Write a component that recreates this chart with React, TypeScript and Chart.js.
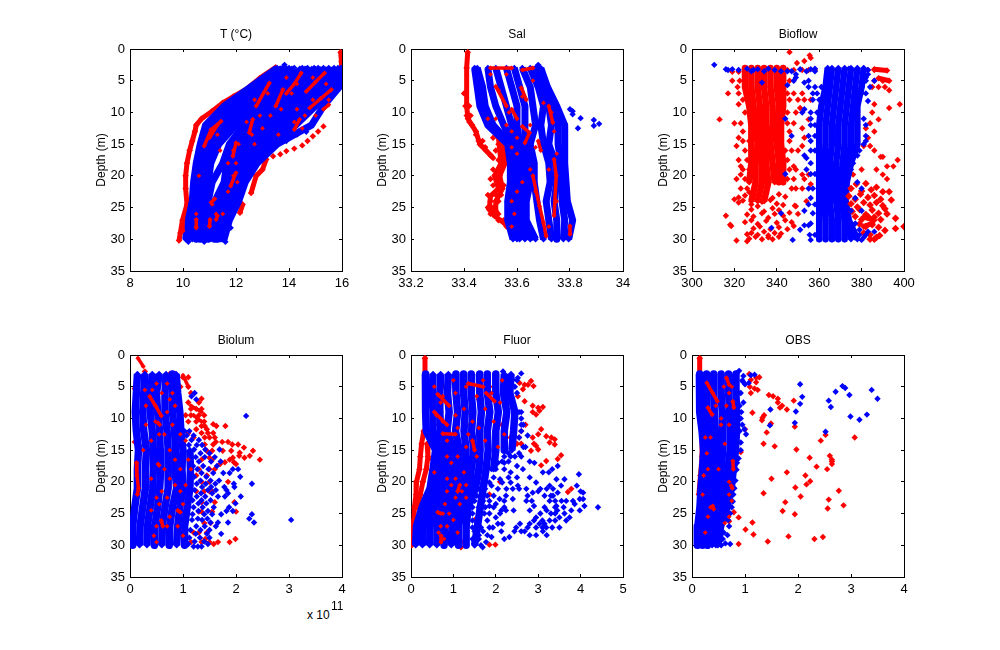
import { useEffect, useRef } from 'react';
import { Chart, registerables } from 'chart.js';

Chart.register(...registerables);

type Pt = [number, number];
type Cast = (number | null)[];
type Row = [number, number[]];

const BLUE = '#0000ff';
const RED = '#ff0000';
const FONT = '"Liberation Sans", Arial, sans-serif';

const depthTicks = [0, 5, 10, 15, 20, 25, 30, 35];
const depthNodes = [3, 6, 9, 12, 15, 18, 21, 24, 27, 30];

// ---- T
const tempBlueCasts: Cast[] = [
  [13.55, 12.55, 11.55, 10.85, 10.65, 10.5, 10.4, 10.35, 10.2, 10.1],
  [13.75, 12.8, 11.8, 11.0, 10.8, 10.6, 10.5, 10.45, 10.3, 10.2],
  [14.0, 13.1, 12.0, 11.15, 10.95, 10.7, 10.6, 10.55, 10.4, 10.35],
  [14.2, 13.4, 12.3, 11.4, 11.1, 10.85, 10.7, 10.65, 10.5, 10.5],
  [14.5, 13.7, 12.7, 11.7, 11.15, 10.95, 10.85, 10.8, 10.65, 10.65],
  [14.7, 14.0, 13.0, 12.0, 11.35, 11.05, 10.95, 10.9, 10.8, 10.8],
  [14.95, 14.3, 13.3, 12.3, 11.75, 11.5, 11.1, 10.95, 10.95, 10.95],
  [15.1, 14.6, 13.6, 12.6, 12.0, 11.65, 11.55, 11.2, 11.05, 11.1],
  [15.3, 14.9, 13.9, 12.9, 12.25, 11.8, 11.7, 11.35, 11.2, 11.2],
  [15.5, 15.1, 14.2, 13.2, 12.5, 12.0, 11.85, 11.55, 11.3, 11.3],
  [15.7, 15.35, 14.5, 13.5, 12.75, 12.2, 12.0, 11.75, 11.45, 11.4],
  [15.85, 15.55, 14.75, 13.85, 13.05, 12.4, 12.15, 11.85, 11.55, 11.45],
  [15.95, 15.7, 15.0, 14.25, 13.3, 12.6, 12.25, 11.95, 11.65, 11.5],
  [16, 15.9, 15.3, 14.85, 13.55, 12.8, 12.35, 12.1, 11.75, 11.55],
];
const tempRedUnder: Pt[][] = [
  [[15.95, 0.5], [15.98, 2], [15.98, 3]],
  [[13.5, 2.9], [12.9, 4.6], [12.4, 6.3], [11.9, 7.5], [11.5, 8.5], [11.1, 9.8], [10.7, 11], [10.5, 12], [10.45, 13], [10.35, 14.5], [10.25, 16], [10.15, 18], [10.1, 20], [10.1, 22], [10.15, 24.5], [9.98, 27], [9.9, 29], [9.85, 30.2]],
  [[12.57, 22.7], [12.76, 20], [13.0, 19], [13.14, 17.4]],
  [[12.15, 25.8], [12.25, 24.5]],
];
const tempRedOver: Pt[][] = [
  [[10.8, 15.3], [11.06, 12.7], [11.44, 11.4]],
  [[11.0, 14], [11.3, 12]],
  [[12.63, 11.1], [12.5, 13.2]],
  [[11.88, 16.9], [12, 14.8]],
  [[11.8, 21.6], [12, 19.5]],
  [[13.9, 7], [14.2, 5.5], [14.46, 3.8]],
  [[14.65, 6.7], [15.0, 5.2], [15.34, 3.8]],
  [[14.78, 9.3], [15.2, 7.8], [15.6, 6.4]],
  [[13.5, 9], [13.77, 6.4]],
  [[12.76, 9], [13.26, 5.35]],
  [[14.2, 12.7], [14.4, 11.1]],
  [[15.3, 9.5], [15.5, 8.8]],
  [[11.06, 24.2], [11.2, 23.6]],
  [[11.3, 26.3], [11.25, 26.9]],
  [[10.5, 26.9], [10.5, 28.2]],
  [[10.0, 26.9], [10.0, 28.7]],
  [[11.02, 26.9], [11, 27.9]],
];
const tempRedDots: Pt[] = [
  [13.4, 16.9], [13.67, 16.6], [13.9, 16.1], [14.2, 15.7], [14.5, 15.2], [14.7, 14.5], [14.9, 13.75], [15.1, 13], [15.3, 12.2],
];
const tempBlueDots: Pt[] = [[13.83, 2.5], [14.65, 13.05], [11.8, 28.2], [11.6, 30.4], [10.2, 30.4], [10.8, 30.4], [14.3, 13.5], [13.9, 14.5]];
const tempRedSpecks: Row[] = [
  [4.5, [14.9, 13.9]], [5.5, [15.4, 14.3]], [7, [14.1, 13.2]], [8, [15.5, 14.9, 12.7]], [9.5, [14.3, 13.7]], [10.5, [14.6, 13.3, 12.9, 15.0]], [11.5, [14.2, 12.4]],
  [12.5, [13.0, 14.5]], [13.5, [12.6, 13.6, 11.3]], [15, [12.1, 12.7]], [16, [11.9, 11.4]], [18, [11.7, 12.0]], [20, [11.9, 10.6]], [21, [12.05]], [22.5, [11.7]],
  [24.5, [11.1]], [26, [11.25, 10.5, 11.5]], [28, [10.5, 11.0]],
];

// ---- Sal
const salBlueCasts: Cast[] = [
  [33.44, 33.45, 33.46, 33.49, 33.565, 33.575, 33.575, 33.565, 33.565, 33.585],
  [33.45, 33.47, 33.48, 33.51, 33.575, 33.59, 33.59, 33.58, 33.58, 33.6],
  [33.49, 33.5, 33.52, 33.55, 33.585, 33.6, 33.6, 33.59, 33.6, 33.61],
  [33.52, 33.54, 33.56, 33.58, 33.595, 33.61, 33.62, 33.605, 33.615, 33.63],
  [33.56, 33.58, 33.6, 33.6, 33.61, 33.62, 33.635, 33.62, 33.63, 33.65],
  [33.59, 33.61, 33.63, 33.63, 33.63, 33.64, 33.65, 33.635, 33.635, 33.67],
  [33.62, 33.65, 33.66, 33.67, 33.65, 33.665, 33.665, 33.675, 33.685, 33.7],
  [33.65, 33.68, 33.7, 33.69, 33.7, 33.72, 33.725, 33.71, 33.72, 33.73],
  [33.67, 33.69, 33.72, 33.73, 33.72, 33.745, 33.75, 33.74, 33.75, 33.75],
  [33.68, 33.71, 33.74, 33.755, 33.755, 33.765, 33.77, 33.77, 33.78, 33.775],
  [33.69, 33.715, 33.75, 33.78, 33.78, 33.78, 33.785, 33.79, 33.81, 33.795],
];
const salRedUnder: Pt[][] = [
  [[33.414, 0.5], [33.41, 3], [33.41, 9], [33.415, 11], [33.43, 12], [33.445, 13], [33.46, 15], [33.483, 16], [33.506, 17]],
  [[33.53, 14], [33.54, 18], [33.515, 20], [33.53, 22], [33.5, 23.2], [33.495, 25.3], [33.515, 26.3], [33.55, 27.4], [33.57, 28]],
  [[33.55, 15], [33.555, 18], [33.535, 20], [33.545, 22], [33.52, 24], [33.52, 25.5]],
];
const salRedOver: Pt[][] = [
  [[33.5, 3], [33.58, 3]],
  [[33.62, 3.3], [33.66, 3]],
  [[33.52, 5.9], [33.56, 9]],
  [[33.616, 6.1], [33.635, 8]],
  [[33.62, 12.2], [33.647, 13.2], [33.63, 14.8]],
  [[33.66, 20], [33.685, 24.8], [33.7, 27.4], [33.71, 29.5]],
  [[33.74, 17.4], [33.748, 20], [33.74, 26.3]],
  [[33.8, 27.9], [33.8, 29.2]],
  [[33.72, 9], [33.735, 11.6]],
  [[33.58, 9.5], [33.6, 11]],
  [[33.68, 14.5], [33.69, 16]],
];
const salRedRows: Row[] = [
  [7, [33.4]], [9, [33.405, 33.42]], [10.5, [33.41, 33.425]], [11.5, [33.42]], [13.5, [33.445]], [14, [33.51, 33.55]], [14.5, [33.455, 33.47]], [15, [33.53]], [15.5, [33.48]],
  [16, [33.52, 33.56]], [16.8, [33.5]], [17.2, [33.51]], [17.5, [33.53, 33.56]], [19, [33.51, 33.54]], [20.5, [33.5, 33.53]], [21.5, [33.51, 33.55]],
  [23, [33.49, 33.52, 33.54]], [24, [33.5, 33.53]], [25, [33.49, 33.51]], [26, [33.5, 33.53]], [27, [33.53, 33.55]], [28, [33.56]],
];
const salBlueDots: Pt[] = [
  [33.68, 2.5], [33.8, 9.5], [33.81, 9.8], [33.81, 10.3], [33.84, 10.9], [33.89, 11.2], [33.91, 11.8], [33.89, 12.1], [33.83, 12.5],
];
const salRedSpecks: Row[] = [
  [4, [33.5, 33.56]], [5, [33.66]], [6.5, [33.53]], [7.5, [33.62]], [8.5, [33.7]], [10, [33.73, 33.57]], [11, [33.52, 33.49]], [12, [33.56, 33.65]], [13, [33.58, 33.74]],
  [14, [33.6]], [15.5, [33.58, 33.67]], [16.5, [33.6, 33.75]], [19, [33.72, 33.65]], [21, [33.62]], [22.5, [33.67, 33.6]], [24, [33.58, 33.75]], [26, [33.59]], [28, [33.58, 33.72]],
];

// ---- Bioflow
const flowRedCasts: Cast[] = [
  [325, 325, 327, 328, 328, 328, 327, null, null, null],
  [328, 328, 329, 330, 331, 330, 330, 328, null, null],
  [331, 331, 332, 332, 333, 333, 333, 331, null, null],
  [334, 334, 335, 335, 335, 335, 336, 334, null, null],
  [337, 337, 338, 338, 337, 338, 339, null, null, null],
  [340, 340, 341, 340, 340, 341, 341, null, null, null],
  [343, 343, 343, 342, 342, 343, 343, null, null, null],
];
const flowBlueCasts: Cast[] = [
  [364, 363, 361, 360, 360, 360, 360, 360, 360, 360],
  [366, 365, 364, 363, 363, 362.5, 362.5, 362.5, 363, 363],
  [369, 368, 367, 366, 366, 365, 365, 365, 366, 366],
  [372, 371, 370, 369, 369, 368, 368, 368, 369, 369],
  [375, 374, 373, 372, 372, 371, 370.5, 370.5, 372, 372],
  [378, 377, 376, 375, 375, 373, 371.5, 371.5, 373.5, 375],
  [381, 380, 378, 378, 378, 375, 373, 372.5, 374, 378],
];
const flowRedOver: Pt[][] = [
  [[381, 26.5], [386, 27]],
  [[381, 28], [385, 27.5]],
  [[386, 3.2], [392, 3.4]],
  [[388, 4.6], [393, 5]],
];
const flowRedRows: Row[] = [
  [0.5, [346]], [1, [355.5]], [1.4, [356]], [1.9, [353]], [2.2, [349.5]],
  [3.3, [345, 348, 352, 355, 358, 381, 383, 386]], [3.6, [319, 322]],
  [5, [319, 322.5, 346, 386, 390]], [6, [321.5, 385, 388, 391]], [6.5, [393]], [7, [317, 322, 345, 348, 352]],
  [8, [324, 346, 350, 353, 356]], [8.7, [322, 386, 398]], [9.3, [393, 351]], [10, [325, 345, 349, 385]], [11.1, [313, 355, 388]],
  [11.7, [320, 323, 345, 348, 384]], [12.5, [382, 352]], [13, [324, 346, 386]], [14, [322, 353, 383]], [14.5, [324, 327, 346]],
  [15.3, [321, 352, 384, 381]], [16, [325, 344, 347, 350, 386]], [17, [389, 390]], [17.5, [322, 326, 345, 397]], [18.5, [323, 348, 395, 392]],
  [19, [324, 327, 346, 349, 387, 380]], [19.8, [323, 352, 355, 376, 390]], [20.5, [321, 325, 345, 348, 353, 392]], [21.3, [356]],
  [22, [323, 326, 347, 349, 352]],
];
const flowRedLower: Pt[] = [
  [325, 23.1], [327, 22.6], [331, 23.4], [335, 22.8], [338, 23.5], [341, 22.9], [344, 23.3], [322, 24.2], [324, 23.9], [328, 24.5], [333, 24.1], [337, 23.8],
  [340, 24.4], [343, 24.6], [328, 25.3], [331, 24.8], [334, 25.6], [338, 25.1], [341, 25.4], [326, 26.1], [329, 26.4], [333, 25.9], [336, 26.6], [339, 26],
  [343, 26.3], [346, 25.8], [350, 26], [325, 27.3], [328, 27], [331, 27.6], [335, 27.1], [340, 27.4], [344, 27], [347, 27.3], [329, 28.3], [332, 28],
  [337, 28.4], [341, 28.1], [345, 28.4], [348, 27.9], [326, 29.2], [328, 29], [331, 29.3], [334, 28.8], [336, 29.4], [339, 29], [342, 29.1], [327, 29.9],
  [330, 29.6], [333, 30], [336, 29.7], [338, 30], [341, 29.6], [316, 26.3], [318, 27.7], [318.5, 27.9], [320, 23.7], [322, 23.4], [354, 24], [348.5, 24.7],
  [349, 24.8], [321, 30.2], [326, 30.3],
];
const flowRedCluster: Pt[] = [
  [375, 22], [377.5, 21.3], [380, 22.4], [382, 21.2], [384.5, 22.2], [387, 21.8], [390, 22.5], [374, 23.2], [377, 23.7], [379.5, 22.9], [383, 23.4], [386, 23.1],
  [389, 23.7], [393, 22.5], [375, 24.4], [378, 24.9], [381, 24.2], [384, 24.6], [387, 24.2], [390, 24.7], [394, 23.8], [375.5, 25.6], [379, 25.3], [382, 26.1],
  [385, 25.4], [388, 25.9], [391, 25.2], [392, 26], [377, 26.4], [380, 26.9], [383, 26.4], [386, 26.5], [389, 26.9], [396, 26.7], [379, 27.6], [382, 28],
  [385, 27.7], [388, 28.1], [391, 28.6], [396, 28.3], [400, 28], [381, 29], [384, 29.3], [387, 29.7], [388.5, 29.4], [384, 30], [386, 30],
];
const flowBlueRows: Row[] = [
  [2.5, [310.5]], [3.1, [326, 336, 358, 374, 378, 381]], [3.2, [316, 319, 331, 351, 356]], [3.3, [317, 322, 329, 339, 383]],
  [3.5, [328, 334, 342, 345, 347, 354, 358]], [4, [349, 383]], [4.5, [349, 382]], [5, [348, 355, 386, 382]], [5.3, [333, 353]], [5.7, [345]],
  [6, [355, 358, 361, 384]], [7, [357, 359, 380, 382]], [8, [357, 360]], [8.2, [383]], [9.5, [353]], [10, [352, 356, 359]], [11, [344, 356, 381]],
  [12, [356, 358, 382]], [13.7, [347, 355, 358, 382]], [14.5, [382, 356]], [15, [381]], [16, [356, 358, 379]], [16.8, [353, 378]], [17.2, [354]], [18, [356, 376]],
  [19, [354, 375]], [19.7, [344, 356, 358]], [21, [378]], [22, [355, 357, 380]], [23.5, [356, 377]], [24.5, [355, 358]], [25.5, [353, 375, 380]], [25.9, [342, 357]],
  [27.5, [377, 356]], [27.8, [353, 355]], [28.2, [337.5]], [28.5, [351, 376, 379]], [28.8, [383, 386]], [29.3, [355.5, 358, 379, 382]], [29.7, [381]], [30.1, [347.5, 356, 380]],
];

// ---- Biolum (x 10^11)
const lumBlueCasts: Cast[] = [
  [0.14, 0.12, 0.1, 0.12, 0.16, 0.14, 0.14, 0.09, 0.05, 0.05],
  [0.28, 0.26, 0.24, 0.26, 0.31, 0.29, 0.29, 0.24, 0.19, 0.18],
  [0.42, 0.39, 0.38, 0.42, 0.44, 0.44, 0.43, 0.38, 0.33, 0.32],
  [0.55, 0.5, 0.52, 0.56, 0.57, 0.58, 0.56, 0.52, 0.47, 0.46],
  [0.68, 0.66, 0.66, 0.7, 0.72, 0.72, 0.72, 0.66, 0.61, 0.6],
  [0.8, 0.8, 0.8, 0.84, 0.86, 0.85, 0.88, 0.8, 0.75, 0.74],
  [0.87, 0.9, 0.94, 0.96, 1.0, 0.98, 1.0, 0.94, 0.9, 0.88],
  [null, null, null, null, 1.13, 1.14, 1.13, 1.08, 1.03, 1.03],
];
const lumRedOver: Pt[][] = [
  [[0.37, 6.5], [0.48, 8], [0.59, 9.6]],
  [[0.53, 10.7], [0.56, 11]],
  [[0.53, 17.2], [0.55, 17.4]],
  [[0.59, 26.1], [0.62, 27]],
  [[0.9, 24.5], [0.95, 24.8]],
  [[1.0, 3.2], [1.1, 5]],
  [[1.15, 8], [1.35, 9]],
  [[1.2, 9.5], [1.35, 10.5]],
  [[0.12, 17], [0.13, 19], [0.16, 21], [0.14, 22]],
  [[0.15, 0.5], [0.25, 1.8]],
];
const lumRedRows: Row[] = [
  [2.6, [0.28]], [3, [0.75, 0.85]], [3.5, [1.0, 1.1]], [5, [0.95, 1.1]], [5.3, [0.09]], [5.7, [0.8]], [6, [1.15]], [6.9, [1.35]], [7.5, [1.1, 1.3]], [8, [0.09]],
  [8.5, [1.15, 1.25, 1.35]], [9.5, [1.05, 1.15, 1.3, 1.4]], [10.5, [1.1, 1.25, 1.4]], [10.9, [1.57]], [11.2, [1.35, 1.41, 1.63, 1.8]], [11.7, [1.25, 1.45]],
  [12.3, [1.1, 1.35, 1.47, 1.57]], [13, [1.2, 1.41, 1.5, 1.6]], [13.7, [0.09, 1.62, 1.74, 1.85]], [14.1, [1.41, 1.57, 1.93, 2.04]], [14.3, [0.18]], [14.6, [2.15]],
  [15.1, [1.45, 1.55, 1.75, 1.91, 2.32]], [15.4, [2.07]], [15.9, [2.06, 2.26]], [16.2, [1.5, 1.94, 2.16]], [16.5, [1.35, 1.55, 1.88, 2.45]], [16.9, [1.79, 1.96]],
  [17.2, [2.0, 1.7]], [18, [1.3, 1.5, 1.6]], [19, [1.25, 1.45]], [20, [1.35, 1.5, 1.85]], [21.5, [1.25, 1.4, 1.5, 1.55]], [23.2, [0.1, 1.35, 1.6, 1.97]],
  [24.7, [1.3, 1.35, 1.55, 2.0]], [26.5, [1.4, 1.52]], [28, [1.3, 1.45, 1.2]], [29, [1.42, 1.99]], [29.5, [1.15, 1.35, 1.5, 1.66, 1.88]], [29.8, [1.58]],
];
const lumBlueRows: Row[] = [
  [6, [1.22]], [6.5, [1.16]], [7, [1.25]], [9.6, [2.19]], [12, [1.03, 1.12]], [12.7, [1.07, 1.2]], [13.4, [1.16, 1.3]], [14.2, [1.11, 1.26, 1.36]], [14.9, [1.21, 1.42, 1.69]],
  [15.5, [1.33, 1.5]], [16.1, [1.24, 1.41, 1.6]], [16.8, [1.3, 1.53, 1.71]], [17.5, [1.19, 1.38, 1.64]], [18, [1.27, 1.48, 1.94, 2.04]], [18.6, [1.35, 1.57, 1.76, 1.88]],
  [19.2, [1.21, 1.44, 2.08]], [19.8, [1.33, 1.52, 1.68]], [20.3, [1.26, 1.43, 1.61, 1.96, 2.3]], [20.8, [1.36, 1.53, 1.78, 1.97]], [21.3, [1.22, 1.47, 1.62, 1.82]],
  [21.8, [1.34, 1.55, 1.85]], [22.3, [1.26, 1.42, 1.66, 1.79, 2.09]], [22.9, [1.18, 1.35, 1.52]], [23.4, [1.29, 1.44, 1.99]], [24, [1.2, 1.37, 1.58, 1.87]], [24.6, [1.29, 1.47, 1.94, 1.82]],
  [25.1, [1.18, 1.4, 1.55, 1.72, 2.3]], [25.8, [1.28, 1.46, 2.25]], [26, [3.04, 1.17, 1.36]], [26.4, [1.52, 1.66, 1.85, 2.34]], [27, [1.25, 1.41, 1.62]], [27.6, [1.14, 1.33, 1.5]],
  [28.2, [1.24, 1.45, 1.72]], [28.8, [1.12, 1.32, 1.5]], [29.4, [1.22, 1.4]], [29.8, [1.1, 1.47]], [30.2, [1.2, 1.28, 1.35]],
];
const lumRedSpecks: Row[] = [
  [4.5, [0.5, 0.7]], [5.5, [0.28, 0.42]], [6, [0.8, 0.6]], [7, [0.75]], [8, [0.85, 0.3]], [9, [0.7]], [10.5, [0.48]], [11, [0.3, 0.8]], [12.5, [0.55, 0.65, 0.95]], [13.5, [1.05, 0.4]],
  [15, [0.75, 0.25]], [16.5, [0.85, 1.1]], [18, [0.65, 0.95, 1.15]], [19.5, [0.4, 0.75]], [20.5, [1.05, 0.85]], [21.5, [0.6, 0.95]], [22.5, [0.5, 0.7]], [23.5, [0.55, 1.0]],
  [24.5, [0.4]], [25.5, [0.75]], [27, [0.5, 0.9, 0.7]], [28.5, [0.45, 1.0]], [29.5, [0.5]],
];

// ---- Fluor
const fluorRedUnder: Pt[][] = [
  [[0.33, 0.5], [0.33, 3]],
  [[0.3, 12], [0.25, 14], [0.22, 16], [0.2, 18], [0.13, 20], [0.12, 22], [0.08, 24], [0.07, 26], [0.03, 28], [0.02, 30]],
  [[0.38, 14], [0.4, 16], [0.36, 18], [0.28, 20], [0.22, 22], [0.15, 24]],
];
const fluorBlueCasts: Cast[] = [
  [0.34, 0.34, 0.35, 0.36, 0.58, 0.52, 0.45, 0.26, 0.13, 0.11],
  [0.52, 0.5, 0.52, 0.52, 0.72, 0.68, 0.6, 0.42, 0.29, 0.27],
  [0.7, 0.68, 0.68, 0.7, 0.85, 0.82, 0.75, 0.58, 0.45, 0.44],
  [0.88, 0.86, 0.9, 0.85, 1.0, 0.95, 0.92, 0.74, 0.62, 0.61],
  [1.05, 1.06, 1.1, 1.05, 1.14, 1.12, 1.05, 0.9, 0.8, 0.78],
  [1.24, 1.24, 1.28, 1.25, 1.3, 1.28, 1.22, 1.05, 0.97, 0.95],
  [1.43, 1.42, 1.46, 1.43, 1.48, 1.42, 1.38, 1.22, 1.12, 1.12],
  [1.62, 1.62, 1.66, 1.62, 1.63, 1.6, 1.52, 1.35, 1.3, 1.3],
  [1.8, 1.8, 1.86, 1.8, 1.82, 1.77, null, null, null, 1.5],
  [2.0, 2.0, 2.06, 2.0, 2.0, 1.95, null, null, null, null],
  [2.2, 2.18, 2.26, 2.2, 2.2, null, null, null, null, null],
  [2.36, 2.33, 2.45, 2.42, 2.38, null, null, null, null, null],
];
const fluorRedOver: Pt[][] = [
  [[0.63, 6.2], [0.9, 8]],
  [[1.77, 6], [1.97, 7.3]],
  [[0.55, 9], [0.85, 11]],
  [[1.35, 4.5], [1.7, 5]],
  [[0.71, 28.5], [0.71, 29.5]],
  [[0.63, 24.8], [0.7, 25]],
  [[1.15, 20.5], [1.1, 21.5]],
  [[1.45, 13.5], [1.5, 15]],
  [[0.75, 12.4], [1.05, 12.5]],
];
const fluorRedRows: Row[] = [
  [4.1, [2.83]], [4.4, [2.56]], [4.7, [2.68, 2.76]], [4.9, [2.89]], [5, [0.75, 1.85]], [5.4, [2.64]], [6.5, [2.52]], [7, [0.8, 1.6, 2.0]], [7.3, [2.68]], [8, [2.87]],
  [8.2, [3.11]], [8.3, [3.0]], [8.8, [3.03]], [9, [0.7, 1.3, 2.87]], [9.4, [2.95]], [11, [0.55, 1.4, 2.15, 2.7]], [11.7, [3.07]], [12, [2.6]], [12.5, [3.0]], [12.8, [3.19]],
  [13, [0.7, 2.35, 2.55, 2.87, 3.31]], [13.3, [3.39]], [13.8, [3.27]], [14, [0.65, 2.5, 2.6, 2.9]], [14.1, [3.39]], [14.3, [2.95]], [14.9, [3.0]], [15.1, [0.75, 2.83]],
  [15.8, [3.54]], [16.4, [0.5, 0.9, 3.46]], [16.7, [3.19]], [17.4, [3.07]], [18, [1.0, 1.4]], [19, [1.3]], [19.5, [0.65, 0.9, 1.6]], [20, [2.1]], [21.1, [3.78]], [21.6, [3.7]],
  [22, [1.15, 1.7, 1.85]], [23, [1.4]], [24, [1.15, 1.2]], [26, [0.7, 1.3, 1.5]], [28, [0.85, 1.0]], [29.5, [1.2]], [29.9, [1.85, 1.99]], [30.3, [1.18]],
];
const fluorBlueRows: Row[] = [
  [2.6, [2.17]], [2.9, [2.6]], [3.6, [2.52]], [3.9, [2.4]], [4, [2.5]], [5, [2.45]], [6, [2.5]], [9, [2.6, 2.55]], [10, [2.6]], [11, [2.6, 2.65]], [12, [2.6]], [12.7, [2.75]],
  [13, [2.55]], [14.5, [2.65, 2.7]], [15.5, [2.3, 2.55]], [16, [2.2, 2.35, 2.45, 2.6]], [16.8, [2.15, 2.3, 2.8]], [17, [2.05, 2.2, 2.91]], [17.5, [1.75, 2.5, 3.46]], [18, [1.9, 2.0, 2.2, 2.64, 3.33]],
  [18.5, [2.35, 3.11, 3.25]], [18.8, [3.96]], [19.3, [1.75, 1.95, 2.3, 2.5, 2.8]], [19.6, [2.1, 3.43, 3.62]], [20.1, [1.5, 1.7, 1.85, 2.15, 2.35, 2.95]], [20.6, [1.9, 2.52, 3.27, 3.54, 3.91]],
  [21.1, [1.6, 1.75, 2.05, 2.25, 2.4, 2.55, 2.72, 3.05, 3.2, 3.35]], [21.5, [3.0, 4.0]], [21.7, [2.87, 3.46, 4.06]], [22.2, [1.55, 1.8, 1.95, 2.24, 2.75, 3.15, 3.3, 3.35]],
  [22.7, [2.09, 2.4, 3.98, 4.06]], [23, [1.5, 1.7, 1.85, 2.2, 2.72, 2.85, 3.27, 3.4, 3.55, 3.66, 3.82]], [23.5, [2.0, 3.86]], [23.8, [1.85, 3.43, 4.09, 2.9]], [24, [1.45, 1.6, 1.75, 1.95, 2.2, 3.15, 3.4, 3.6, 4.41]],
  [24.5, [2.13, 2.24, 2.42, 2.8, 3.2, 3.45, 3.78, 3.98]], [25, [1.45, 1.65, 1.73, 1.85, 2.1, 3.05, 3.3, 3.4, 3.62]], [25.6, [2.0, 2.95, 3.5, 3.74]], [26.1, [1.45, 1.6, 1.8, 2.9, 3.1, 3.27, 3.4, 3.66]],
  [26.6, [2.05, 2.15, 2.57, 2.8, 3.03, 3.15]], [27.2, [1.45, 1.65, 1.85, 1.93, 2.48, 2.75, 2.95, 3.1, 3.19, 3.33, 3.5]], [27.8, [1.5, 1.7, 2.13, 2.44, 2.6, 2.68, 3.11]], [28.4, [1.6, 1.8, 2.95, 2.8, 3.2]],
  [28.7, [1.9, 2.32]], [29, [1.45, 1.6, 2.2]], [29.5, [1.77]], [30, [1.5, 1.65]], [30.3, [1.69]],
];
const fluorRedSpecks: Row[] = [
  [4, [1.0, 1.7, 2.15]], [5, [0.55, 1.3]], [6, [1.05, 1.9]], [6.5, [0.75, 1.55]], [7.5, [0.7, 2.1]], [8.5, [1.25, 1.75]], [9.5, [1.05, 0.6]], [10.5, [1.45, 0.75, 1.95]], [11.5, [1.6, 1.1]],
  [12.5, [1.35, 2.2]], [13.5, [0.85, 1.75]], [14.5, [1.3, 2.05]], [16, [1.1, 1.55, 0.85]], [17, [0.95]], [18.5, [1.25, 0.55]], [19.5, [1.05, 0.85]], [20.5, [1.3, 0.95]], [21.5, [0.85, 1.2]],
  [22.5, [1.3, 1.05]], [23.5, [0.8, 1.15]], [25, [0.9, 0.75]], [26, [1.0]], [27, [0.7, 0.85]], [28, [0.65, 1.1]], [29, [0.72, 0.78]],
];

// ---- OBS
const obsRedUnder: Pt[][] = [
  [[0.145, 0.5], [0.145, 3]],
  [[0.2, 13], [0.19, 16], [0.16, 19], [0.13, 22]],
];
const obsBlueCasts: Cast[] = [
  [0.14, 0.14, 0.15, 0.19, 0.22, 0.2, 0.17, 0.15, 0.11, 0.1],
  [0.27, 0.27, 0.28, 0.32, 0.34, 0.31, 0.29, 0.26, 0.2, 0.2],
  [0.41, 0.41, 0.42, 0.44, 0.46, 0.43, 0.4, 0.37, 0.3, 0.29],
  [0.55, 0.55, 0.57, 0.58, 0.58, 0.55, 0.52, 0.48, 0.4, 0.38],
  [0.69, 0.69, 0.71, 0.72, 0.72, 0.68, 0.64, 0.58, 0.48, 0.45],
  [0.82, 0.83, 0.84, 0.84, 0.82, 0.78, 0.74, 0.66, 0.54, 0.49],
];
const obsRedOver: Pt[][] = [
  [[0.28, 4.4], [0.39, 6], [0.48, 7.3]],
  [[0.3, 8.3], [0.38, 9.4]],
  [[0.65, 3.6], [0.7, 4.7]],
  [[0.77, 7.3], [0.79, 8.3]],
  [[0.77, 16.7], [0.78, 18]],
  [[0.74, 20.6], [0.76, 21]],
  [[0.39, 23.8], [0.41, 24.3]],
];
const obsRedDots: Pt[] = [
  [1.08, 3], [1.11, 3.9], [1.09, 5], [1.11, 6], [1.18, 5.3], [1.24, 5.5], [1.21, 4.3], [1.27, 3.5], [1.21, 3.6], [1.45, 6.3], [1.53, 6.5], [1.62, 6.9],
  [1.62, 7.5], [1.7, 8], [1.66, 8.3], [1.79, 8.6], [1.92, 7.2], [1.14, 9.1], [1.36, 9.5], [1.33, 9.9], [1.32, 10.3], [1.49, 10.8], [1.94, 11.3], [1, 11.7],
  [1.41, 12.2], [2.52, 12.6], [2.43, 13.5], [3.07, 13], [1.35, 14], [1.56, 14.4], [1.97, 14.9], [2.22, 16.2], [2.6, 15.9], [2.64, 16.5], [2.64, 16.8], [2.64, 17.2],
  [2.35, 17.6], [2.55, 18], [1.79, 18.5], [2.14, 19], [1.5, 19.5], [2.23, 19.9], [2.16, 20.4], [1.95, 20.9], [2.77, 21.4], [1.35, 21.8], [2.05, 22.3], [2.58, 22.8],
  [1.76, 23.2], [2.86, 23.7], [2.56, 24.2], [1.71, 24.6], [1.94, 25.1], [0.88, 25.6], [0.79, 24.8], [0.7, 26.2], [1.14, 26.4], [1.01, 27.5], [1.16, 28.3], [1.82, 28.6],
  [2.47, 28.7], [2.31, 29], [1.43, 29.4], [0.88, 29.8], [0.92, 15.3],
];
const obsBlueDots: Pt[] = [
  [0.89, 2.5], [0.97, 3.3], [0.96, 4.2], [1.11, 3.2], [1.18, 3.1], [1.07, 4.4], [2.04, 4.6], [2.08, 6.6], [2.04, 7.7], [1.48, 8.6], [1.96, 8.9], [1.94, 10.7],
  [1.47, 11.1], [2.52, 12.1], [2.84, 4.9], [2.89, 5.2], [2.71, 5.8], [2.97, 6.3], [3.39, 5.5], [3.5, 6.9], [2.58, 7.2], [2.62, 8.2], [2.99, 9.7], [3.16, 10.2],
  [3.3, 9.4], [0.97, 7.5], [1.02, 12.5], [0.99, 11.7], [0.92, 13.8], [0.88, 16.3], [0.84, 18.1], [0.82, 19.8], [0.77, 23.1], [0.7, 27], [0.67, 28.4], [0.72, 29.8], [0.63, 29.7],
  [0.95, 4], [1.0, 4.6], [0.92, 6], [0.9, 8], [0.93, 9], [0.92, 10], [0.95, 11], [0.9, 12], [0.92, 15], [0.85, 17], [0.8, 21], [0.78, 22], [0.75, 24],
  [0.72, 25], [0.68, 26], [0.6, 28], [0.58, 29], [0.55, 30],
];
const obsRedSpecks: Row[] = [
  [5, [0.6, 0.75]], [6, [0.7]], [8, [0.65, 0.45]], [10, [0.55]], [11, [0.7, 0.55]], [13, [0.35, 0.25]], [14, [0.62]], [15.5, [0.28]], [18, [0.3, 0.5]], [19, [0.22]], [20, [0.7]],
  [22, [0.2, 0.7]], [23, [0.75]], [24, [0.35]], [25.5, [0.7, 0.3]], [26.5, [0.62]], [28, [0.25]],
];

const castPoints = (c: Cast): Pt[] =>
  c.flatMap((v, i) => (v === null ? [] : [[v, depthNodes[i]] as Pt]));

const rowPoints = (rows: Row[]): Pt[] =>
  rows.flatMap(([d, xs]) => xs.map(x => [x, d] as Pt));

const lineSet = (pts: Pt[], color: string, width: number) => ({
  data: pts.map(([x, y]) => ({ x, y })),
  showLine: true,
  borderColor: color,
  backgroundColor: color,
  borderWidth: width,
  borderCapStyle: 'butt' as const,
  borderJoinStyle: 'round' as const,
  pointStyle: 'rectRot' as const,
  pointRadius: Math.min(3.3, width / 2 + 0.8),
  pointBorderWidth: 0,
  tension: 0,
});

const dotSet = (pts: Pt[], color: string, radius = 3.2) => ({
  data: pts.map(([x, y]) => ({ x, y })),
  showLine: false,
  borderColor: color,
  backgroundColor: color,
  pointStyle: 'rectRot' as const,
  pointRadius: radius,
  pointBorderWidth: 0,
});

// bottom layer first; reversed later because Chart.js paints dataset 0 last
const layers = (
  redUnder: Pt[][], blueCasts: Cast[], redOver: Pt[][], redDots: Pt[], blueDots: Pt[], specks: Row[], castWidth = 7,
) => [
  ...redUnder.map(p => lineSet(p, RED, 5)),
  dotSet(redDots, RED),
  ...blueCasts.map(c => lineSet(castPoints(c), BLUE, castWidth)),
  dotSet(blueDots, BLUE),
  ...redOver.map(p => lineSet(p, RED, 3.5)),
  dotSet(rowPoints(specks), RED, 2.4),
];

const panels = [
  { title: 'T (°C)', min: 8, max: 16, step: 2, left: 130, top: 49,
    sets: layers(tempRedUnder, tempBlueCasts, tempRedOver, tempRedDots, tempBlueDots, tempRedSpecks, 7) },
  { title: 'Sal', min: 33.2, max: 34, step: 0.2, left: 411, top: 49,
    sets: layers(salRedUnder, salBlueCasts, salRedOver, rowPoints(salRedRows), salBlueDots, salRedSpecks, 7) },
  { title: 'Bioflow', min: 300, max: 400, step: 20, left: 692, top: 49,
    sets: [
      ...flowRedCasts.map(c => lineSet(castPoints(c), RED, 6.5)),
      dotSet([...rowPoints(flowRedRows), ...flowRedLower], RED),
      ...flowBlueCasts.map(c => lineSet(castPoints(c), BLUE, 6.5)),
      dotSet(flowRedCluster, RED, 3.8),
      ...flowRedOver.map(p => lineSet(p, RED, 5)),
      dotSet(rowPoints(flowBlueRows), BLUE),
    ] },
  { title: 'Biolum', min: 0, max: 4, step: 1, left: 130, top: 355,
    sets: layers([], lumBlueCasts, lumRedOver, rowPoints(lumRedRows), rowPoints(lumBlueRows), lumRedSpecks, 7.5) },
  { title: 'Fluor', min: 0, max: 5, step: 1, left: 411, top: 355,
    sets: layers(fluorRedUnder, fluorBlueCasts, fluorRedOver, rowPoints(fluorRedRows), rowPoints(fluorBlueRows), fluorRedSpecks, 7.5) },
  { title: 'OBS', min: 0, max: 4, step: 1, left: 692, top: 355,
    sets: layers(obsRedUnder, obsBlueCasts, obsRedOver, obsRedDots, obsBlueDots, obsRedSpecks, 7.5) },
];

const MARGIN = { left: 50, right: 15, top: 30, bottom: 25 };
const PLOT_W = 212;
const PLOT_H = 222;

type Panel = (typeof panels)[number];

// keep the plot box the same size whatever the tick labels overhang
const noOverhang = (s: any) => {
  s.paddingLeft = 0;
  s.paddingRight = 0;
  s.paddingTop = 0;
  s.paddingBottom = 0;
};

function Scatter({ panel }: { panel: Panel }) {
  const ref = useRef<HTMLCanvasElement>(null);

  useEffect(() => {
    if (!ref.current) return;
    const font = { family: FONT, size: 12 };
    const tickFont = { family: FONT, size: 13 };
    const tickGrid = { drawOnChartArea: false, drawTicks: true, tickLength: -3, color: '#000' };
    const border = { color: '#000', width: 1 };

    const chart = new Chart(ref.current, {
      type: 'scatter',
      data: { datasets: [...panel.sets].reverse() as any },
      options: {
        animation: false,
        responsive: false,
        layout: { padding: 0 },
        plugins: { legend: { display: false }, tooltip: { enabled: false } },
        scales: {
          x: {
            type: 'linear', position: 'bottom', min: panel.min, max: panel.max,
            grid: tickGrid, border,
            ticks: {
              stepSize: panel.step, color: '#000', font: tickFont, maxRotation: 0, padding: 8,
              callback: (v: any) => String(Number(Number(v).toFixed(1))),
            },
            afterFit: (s: any) => { s.height = MARGIN.bottom; noOverhang(s); },
          },
          x2: {
            type: 'linear', position: 'top', min: panel.min, max: panel.max,
            grid: tickGrid, border,
            ticks: { stepSize: panel.step, display: false },
            title: { display: true, text: panel.title, color: '#000', font, padding: 8 },
            afterFit: (s: any) => { s.height = MARGIN.top; noOverhang(s); },
          },
          y: {
            type: 'linear', position: 'left', reverse: true, min: 0, max: 35,
            grid: tickGrid, border,
            afterBuildTicks: (s: any) => { s.ticks = depthTicks.map(value => ({ value })); },
            ticks: { color: '#000', font: tickFont, padding: 8 },
            title: { display: true, text: 'Depth (m)', color: '#000', font, padding: 14 },
            afterFit: (s: any) => { s.width = MARGIN.left; noOverhang(s); },
          },
          y2: {
            type: 'linear', position: 'right', reverse: true, min: 0, max: 35,
            grid: tickGrid, border,
            afterBuildTicks: (s: any) => { s.ticks = depthTicks.map(value => ({ value })); },
            ticks: { display: false },
            afterFit: (s: any) => { s.width = MARGIN.right; noOverhang(s); },
          },
        },
      } as any,
    });
    return () => chart.destroy();
  }, [panel]);

  return (
    <canvas
      ref={ref}
      width={PLOT_W + MARGIN.left + MARGIN.right}
      height={PLOT_H + MARGIN.top + MARGIN.bottom}
      style={{ position: 'absolute', left: panel.left - MARGIN.left, top: panel.top - MARGIN.top }}
    />
  );
}

export default function App() {
  useEffect(() => { document.body.style.margin = '0'; }, []);

  return (
    <div style={{ position: 'relative', width: 1000, height: 650, background: '#fff', overflow: 'hidden' }}>
      {panels.map(p => <Scatter key={p.title} panel={p} />)}
      <div style={{ position: 'absolute', left: 307, top: 608, font: `12px ${FONT}`, color: '#000' }}>
        x 10<span style={{ position: 'absolute', left: 24, top: -9 }}>11</span>
      </div>
    </div>
  );
}
